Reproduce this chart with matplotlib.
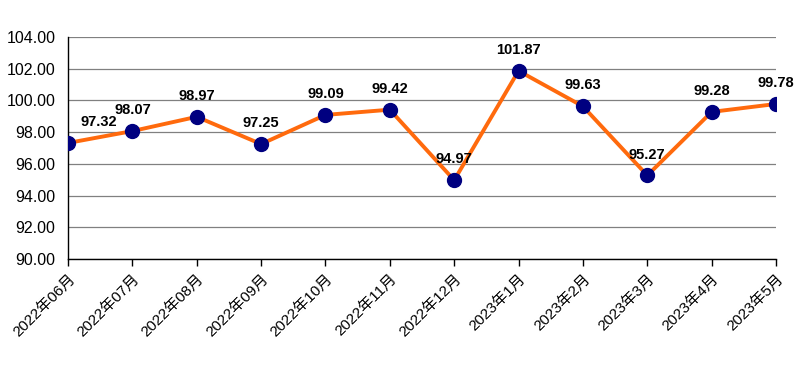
import matplotlib
matplotlib.use("Agg")
import matplotlib.pyplot as plt
from matplotlib.transforms import ScaledTranslation

plt.rcParams['font.family'] = ['Liberation Sans', 'Noto Sans CJK SC', 'DejaVu Sans']

months = ["2022年06月", "2022年07月", "2022年08月", "2022年09月", "2022年10月",
          "2022年11月", "2022年12月", "2023年1月", "2023年2月", "2023年3月",
          "2023年4月", "2023年5月"]
values = [97.32, 98.07, 98.97, 97.25, 99.09, 99.42, 94.97, 101.87, 99.63,
          95.27, 99.28, 99.78]
yticks = [90, 92, 94, 96, 98, 100, 102, 104]


def main():
    fig = plt.figure(figsize=(8.04, 3.71), dpi=100)
    ax = fig.add_axes([0.0846, 0.302, 0.8806, 0.598])
    x = list(range(len(months)))
    ax.plot(x, values, color='#FF6A0D', linewidth=2.8, zorder=3,
            marker='o', markersize=10, markerfacecolor='#000080',
            markeredgecolor='#000080')
    for i, v in enumerate(values):
        dx = 22 if i == 0 else 0
        ax.annotate('%.2f' % v, (i, v), xytext=(dx, 10),
                    textcoords='offset points', ha='center', va='bottom',
                    fontsize=10.5, fontweight='bold', color='black', zorder=4)
    ax.set_xlim(0, len(months) - 1)
    ax.set_ylim(90, 104)
    ax.set_yticks(yticks)
    ax.set_yticklabels(['%.2f' % t for t in yticks], fontsize=11.5)
    ax.set_xticks(x)
    ax.set_xticklabels(months, rotation=45, ha='right',
                       rotation_mode='anchor', fontsize=11)
    shift = ScaledTranslation(5 / 100, -3 / 100, fig.dpi_scale_trans)
    for lab in ax.get_xticklabels():
        lab.set_transform(lab.get_transform() + shift)
    ax.tick_params(axis='y', length=0, pad=9)
    ax.tick_params(axis='x', length=5, width=1, direction='out', pad=4)
    ax.yaxis.grid(True, color='#808080', linewidth=0.9)
    ax.set_axisbelow(True)
    ax.spines['top'].set_visible(False)
    ax.spines['right'].set_visible(False)
    ax.spines['left'].set_color('black')
    ax.spines['bottom'].set_color('black')
    for s in ax.spines.values():
        s.set_linewidth(1)
    fig.savefig('out.png', dpi=100)


if __name__ == "__main__":
    main()
